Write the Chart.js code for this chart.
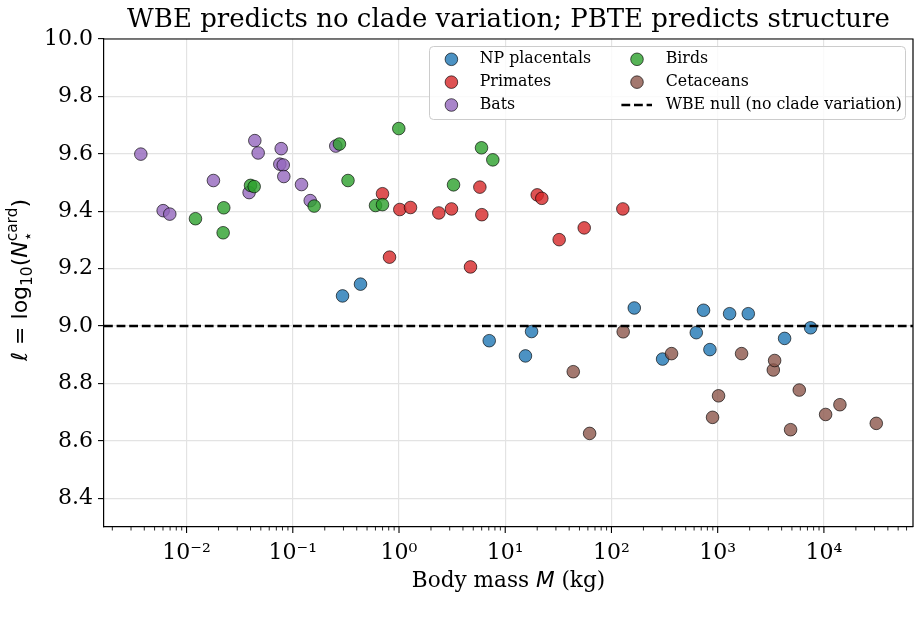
<!DOCTYPE html>
<html>
<head>
<meta charset="utf-8">
<script src="https://cdn.jsdelivr.net/npm/chart.js@4/dist/chart.umd.min.js"></script>
<style>
  html, body { margin: 0; padding: 0; background: #fff; }
  #wrap { width: 921px; height: 630px; }
</style>
</head>
<body>
<div id="wrap"><canvas id="chart"></canvas></div>
<script>
// --- data: body mass (kg) and ell = log10(N*card) per clade
const placentalMass = [0.294, 0.434, 7.07, 15.5, 17.7, 164, 303, 629, 736, 845, 1295, 1942, 4266, 7499];
const placentalEll  = [9.105, 9.146, 8.949, 8.896, 8.981, 9.063, 8.885, 8.977, 9.055, 8.918, 9.043, 9.043, 8.957, 8.994];
const primateMass = [0.699, 0.814, 1.017, 1.283, 2.37, 3.12, 4.71, 5.77, 6.02, 20.0, 22.1, 32.2, 55.4, 128];
const primateEll  = [9.461, 9.240, 9.406, 9.413, 9.394, 9.408, 9.206, 9.484, 9.388, 9.457, 9.445, 9.301, 9.342, 9.408];
const batMass = [0.00371, 0.00602, 0.00695, 0.0179, 0.0388, 0.0439, 0.0472, 0.0755, 0.0778, 0.0813, 0.0823, 0.1208, 0.146, 0.254];
const batEll  = [9.599, 9.402, 9.390, 9.507, 9.465, 9.646, 9.603, 9.564, 9.618, 9.561, 9.521, 9.493, 9.437, 9.627];
const birdMass = [0.01213, 0.0221, 0.0224, 0.0400, 0.0433, 0.159, 0.275, 0.331, 0.601, 0.699, 0.995, 3.26, 5.98, 7.64];
const birdEll  = [9.374, 9.325, 9.412, 9.490, 9.486, 9.418, 9.634, 9.507, 9.420, 9.423, 9.688, 9.492, 9.621, 9.579];
const cetaceanMass = [43.7, 62.3, 129, 368, 895, 1019, 1679, 3340, 3436, 4857, 5863, 10380, 14150, 31130];
const cetaceanEll  = [8.841, 8.626, 8.980, 8.904, 8.682, 8.757, 8.904, 8.847, 8.880, 8.639, 8.777, 8.692, 8.726, 8.661];

const cladeNames = ["NP placentals", "Primates", "Bats", "Birds", "Cetaceans"];
const cladeRgb = ["31,119,180", "214,39,40", "148,103,189", "44,160,44", "140,86,75"];
const nullLevel = 9.0;
const nullLabel = "WBE null (no clade variation)";

const xLimits = [0.00167, 69000];
const yLimits = [8.3, 10.0];
const xMajorTicks = [0.01, 0.1, 1, 10, 100, 1000, 10000];
const yTicks = [8.4, 8.6, 8.8, 9.0, 9.2, 9.4, 9.6, 9.8, 10.0];
const titleText = "WBE predicts no clade variation; PBTE predicts structure";

const SERIF = "'DejaVu Serif', serif";
const SANS = "'DejaVu Sans', sans-serif";
const gridColor = "#e3e3e3";

const pairs = (xs, ys) => xs.map((x, i) => ({x, y: ys[i]}));
const cladeData = [
  pairs(placentalMass, placentalEll),
  pairs(primateMass, primateEll),
  pairs(batMass, batEll),
  pairs(birdMass, birdEll),
  pairs(cetaceanMass, cetaceanEll),
];

const supDigits = {"-": "\u207B", "0": "\u2070", "1": "\u00B9", "2": "\u00B2", "3": "\u00B3", "4": "\u2074",
  "5": "\u2075", "6": "\u2076", "7": "\u2077", "8": "\u2078", "9": "\u2079"};
const powLabel = v => "10" + String(Math.round(Math.log10(v))).split("").map(c => supDigits[c]).join("");

// draw a run of text pieces (fonts / baseline shifts), stacked pieces share the same x
function runWidth(ctx, runs) {
  let w = 0;
  for (const r of runs) {
    const parts = r.stack || [r];
    let m = 0;
    for (const p of parts) { ctx.font = p.font; m = Math.max(m, ctx.measureText(p.t).width); }
    w += m;
  }
  return w;
}
function drawRun(ctx, runs, x, y) {
  for (const r of runs) {
    const parts = r.stack || [r];
    let m = 0;
    for (const p of parts) {
      ctx.font = p.font;
      ctx.fillText(p.t, x, y + (p.dy || 0));
      m = Math.max(m, ctx.measureText(p.t).width);
    }
    x += m;
  }
}

const decor = {
  id: "decor",
  beforeDraw(chart) {
    const {ctx, width, height} = chart;
    ctx.save();
    ctx.fillStyle = "#fff";
    ctx.fillRect(0, 0, width, height);
    ctx.restore();
  },
  afterDraw(chart) {
    const {ctx, chartArea: ca} = chart;
    const xs = chart.scales.x;
    ctx.save();
    // top and right spines
    ctx.strokeStyle = "#000";
    ctx.lineWidth = 1.2;
    ctx.beginPath();
    ctx.moveTo(ca.left, ca.top); ctx.lineTo(ca.right, ca.top); ctx.lineTo(ca.right, ca.bottom);
    ctx.stroke();

    // x tick marks, major and minor
    for (const t of xs.ticks) {
      const px = xs.getPixelForValue(t.value);
      if (px < ca.left - 0.5 || px > ca.right + 0.5) continue;
      ctx.lineWidth = t.major ? 1.1 : 0.85;
      ctx.beginPath();
      ctx.moveTo(px, ca.bottom);
      ctx.lineTo(px, ca.bottom + (t.major ? 6 : 3.5));
      ctx.stroke();
    }

    ctx.fillStyle = "#000";
    ctx.textBaseline = "alphabetic";
    // x axis label
    const xl = [
      {t: "Body mass ", font: "21.6px " + SERIF},
      {t: "M", font: "italic 21.6px " + SANS},
      {t: " (kg)", font: "21.6px " + SERIF},
    ];
    const xw = runWidth(ctx, xl);
    drawRun(ctx, xl, (ca.left + ca.right) / 2 - xw / 2, 587);

    // y axis label, rotated
    const yl = [
      {t: "\u2113", font: "22px " + SANS},
      {t: " = ", font: "22px " + SANS},
      {t: "log", font: "22px " + SANS},
      {t: "10", font: "15.4px " + SANS, dy: 5},
      {t: "(", font: "22px " + SANS},
      {t: "N", font: "italic 22px " + SANS},
      {stack: [{t: "card", font: "15.4px " + SANS, dy: -10}, {t: "\u22C6", font: "15.4px " + SANS, dy: 5.5}]},
      {t: ")", font: "22px " + SANS},
    ];
    const yw = runWidth(ctx, yl);
    ctx.translate(19, (ca.top + ca.bottom) / 2 - 3);
    ctx.rotate(-Math.PI / 2);
    drawRun(ctx, yl, -yw / 2, 8);
    ctx.setTransform(1, 0, 0, 1, 0, 0);

    // legend, two columns, filled column by column
    const bx = ca.right - 484, by = ca.top + 7, bw = 476, bh = 73;
    ctx.beginPath();
    ctx.roundRect(bx + 0.5, by + 0.5, bw, bh, 4);
    ctx.fillStyle = "rgba(255,255,255,0.8)";
    ctx.fill();
    ctx.strokeStyle = "#cccccc";
    ctx.lineWidth = 1;
    ctx.stroke();
    const items = chart.data.datasets.filter(d => d.legendPos !== undefined)
      .sort((a, b) => a.legendPos - b.legendPos);
    items.forEach((d, i) => {
      const col = Math.floor(i / 3), row = i % 3;
      const cy = by + 13.3 + row * 22.85;
      const mx = bx + (col ? 208 : 22.4);
      const tx = bx + (col ? 236.7 : 50.7);
      if (d.type === "line") {
        ctx.strokeStyle = d.borderColor;
        ctx.lineWidth = d.borderWidth;
        ctx.setLineDash(d.borderDash);
        ctx.beginPath();
        ctx.moveTo(mx - 15.6, cy); ctx.lineTo(mx + 15, cy);
        ctx.stroke();
        ctx.setLineDash([]);
      } else {
        ctx.beginPath();
        ctx.arc(mx, cy, d.pointRadius, 0, Math.PI * 2);
        ctx.fillStyle = d.backgroundColor;
        ctx.fill();
        ctx.strokeStyle = d.borderColor;
        ctx.lineWidth = d.borderWidth;
        ctx.stroke();
      }
      ctx.fillStyle = "#000";
      ctx.font = "15.8px " + SERIF;
      ctx.textBaseline = "middle";
      ctx.fillText(d.label, tx, cy);
    });
    ctx.restore();
  }
};

// scatter datasets; later clades sit on top, as in the figure
const scatterSets = cladeNames.map((name, i) => ({
  label: name,
  legendPos: i,
  data: cladeData[i],
  order: 10 - i,
  backgroundColor: `rgba(${cladeRgb[i]},0.8)`,
  borderColor: "rgba(0,0,0,0.8)",
  borderWidth: 0.8,
  pointRadius: 6.3,
  pointHoverRadius: 6.3,
}));

const nullSet = {
  type: "line",
  label: nullLabel,
  legendPos: 5,
  order: 0,
  data: [{x: xLimits[0], y: nullLevel}, {x: xLimits[1], y: nullLevel}],
  borderColor: "#000",
  borderWidth: 2.5,
  borderDash: [8.8, 3.8],
  pointRadius: 0,
  fill: false,
};

Chart.defaults.font.family = SERIF;
Chart.defaults.color = "#000";

new Chart(document.getElementById("chart"), {
  type: "scatter",
  data: {datasets: [nullSet, ...scatterSets]},
  options: {
    responsive: true,
    maintainAspectRatio: false,
    animation: false,
    events: [],
    layout: {padding: {left: 0, right: 8, top: 0, bottom: 0}},
    plugins: {
      legend: {display: false},
      tooltip: {enabled: false},
      title: {
        display: true,
        text: titleText,
        fullSize: false,
        color: "#000",
        font: {family: SERIF, size: 26, weight: "normal", lineHeight: 1.2},
        padding: {top: 4.5, bottom: 3.3},
      },
    },
    scales: {
      x: {
        type: "logarithmic",
        min: xLimits[0],
        max: xLimits[1],
        afterBuildTicks: scale => {
          const ticks = [];
          for (const d of [0.001, ...xMajorTicks]) {
            if (d >= xLimits[0] && d <= xLimits[1]) ticks.push({value: d, major: true});
            for (let k = 2; k <= 9; k++) {
              const v = k * d;
              if (v >= xLimits[0] && v <= xLimits[1]) ticks.push({value: v, major: false});
            }
          }
          ticks.sort((a, b) => a.value - b.value);
          scale.ticks = ticks;
        },
        afterFit: scale => { scale.height = 103; },
        ticks: {
          autoSkip: false,
          maxRotation: 0,
          padding: 7,
          font: {family: SERIF, size: 22},
          callback: (v, i, ticks) => ticks[i].major ? powLabel(v) : "",
        },
        grid: {
          color: ctx => (ctx.tick && ctx.tick.major) ? gridColor : "rgba(0,0,0,0)",
          lineWidth: 1.2,
          tickLength: 6,
          tickColor: "rgba(0,0,0,0)",
        },
        border: {display: true, color: "#000", width: 1.2},
      },
      y: {
        type: "linear",
        min: yLimits[0],
        max: yLimits[1],
        afterBuildTicks: scale => { scale.ticks = yTicks.map(v => ({value: v})); },
        afterFit: scale => { scale.width = 104; },
        ticks: {
          padding: 5,
          font: {family: SERIF, size: 22},
          callback: v => v.toFixed(1),
        },
        grid: {
          color: gridColor,
          lineWidth: 1.2,
          tickLength: 6,
          tickColor: "#000",
          tickWidth: 1.1,
        },
        border: {display: true, color: "#000", width: 1.2},
      },
    },
  },
  plugins: [decor],
});
</script>
</body>
</html>
